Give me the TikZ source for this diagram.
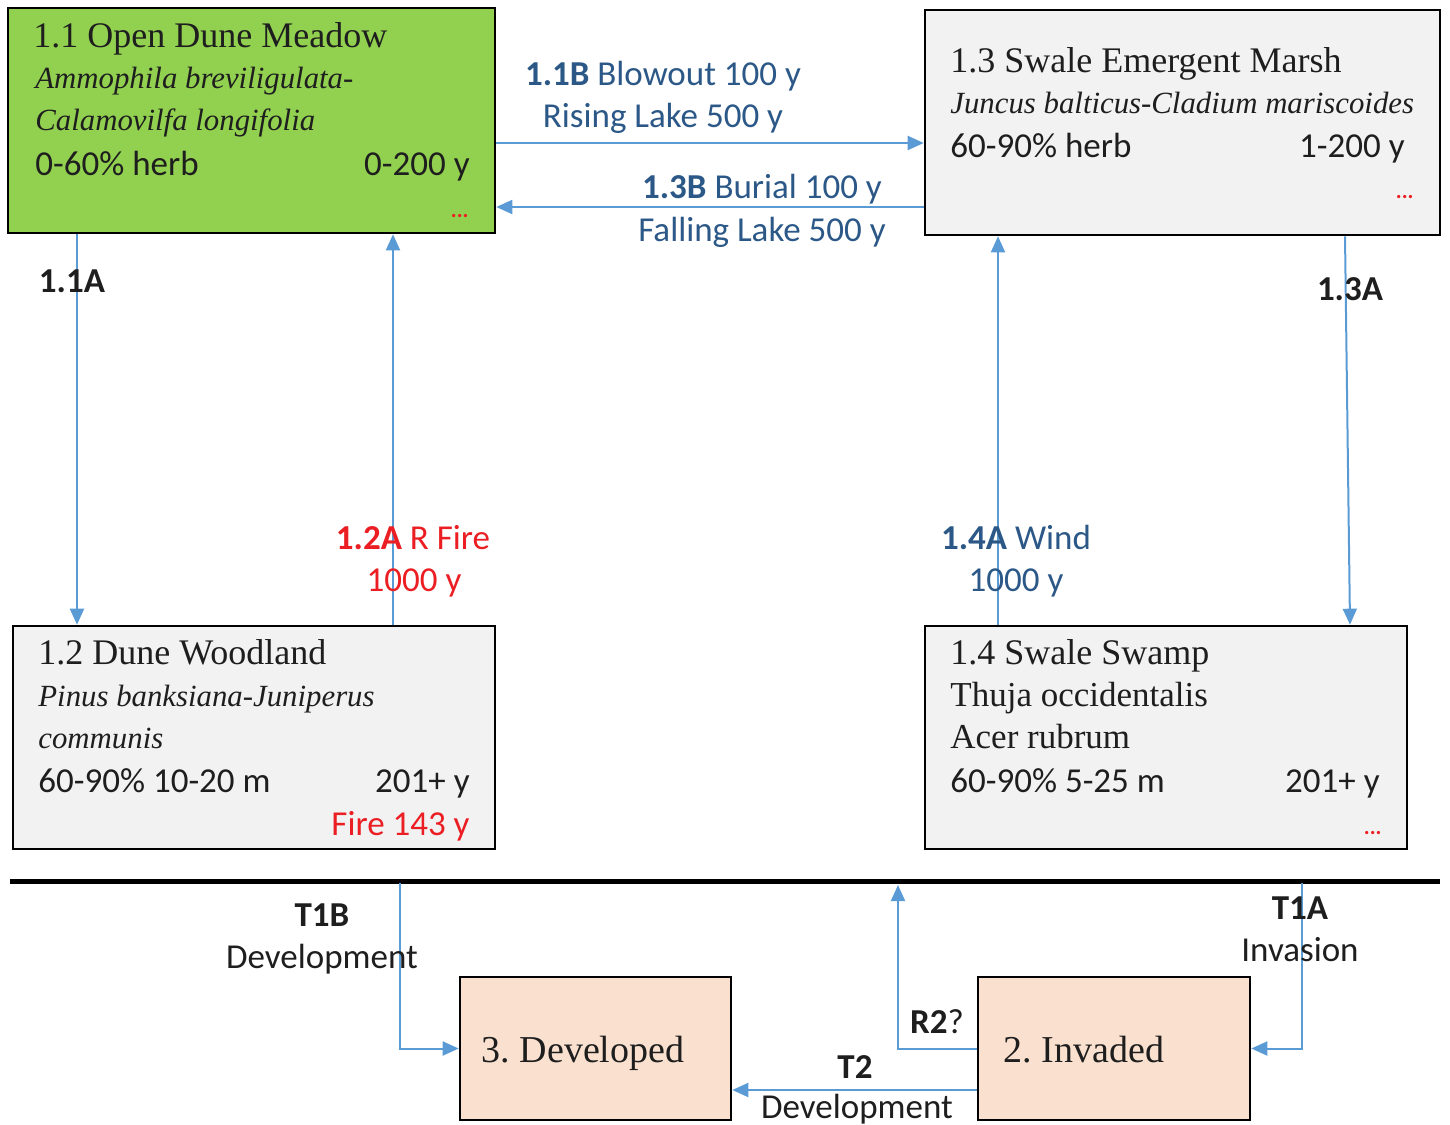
\documentclass[tikz,border=0pt]{standalone}
\usepackage{fontspec}
\setmainfont{Liberation Serif}
\usetikzlibrary{arrows.meta,fit,calc}
\newfontfamily\calfont{Carlito}
\definecolor{arrowblue}{RGB}{91,155,213}
\definecolor{labblue}{RGB}{44,88,135}
\definecolor{labred}{RGB}{235,30,35}
\definecolor{meadow}{RGB}{146,208,80}
\definecolor{boxgray}{RGB}{242,242,242}
\definecolor{peach}{RGB}{250,225,207}
\definecolor{txt}{RGB}{30,30,30}
\frenchspacing
\tikzset{
  box/.style={draw=black, line width=1.3pt, inner sep=0pt},
  ttl/.style={font=\fontsize{18}{20}\selectfont, anchor=base west, inner sep=0pt, text=txt},
  spp/.style={font=\fontsize{15.4}{20}\selectfont\itshape, anchor=base west, inner sep=0pt, text=txt},
  sppup/.style={font=\fontsize{17.5}{20}\selectfont, anchor=base west, inner sep=0pt, text=txt},
  sans/.style={font=\calfont\fontsize{17.5}{21}\selectfont, inner sep=0pt, text=txt},
  sansl/.style={sans, anchor=base west},
  sansr/.style={sans, anchor=base east},
  lab/.style={sans, anchor=base},
  dots/.style={font=\calfont\bfseries\fontsize{11}{12}\selectfont, text=labred, inner sep=0pt, anchor=base east},
  arr/.style={draw=arrowblue, line width=1pt, -{Triangle[length=8pt,width=7pt]}},
}
\begin{document}
\begin{tikzpicture}[x=0.5pt,y=-0.5pt]
\useasboundingbox (0,0) rectangle (1450,1124);
% boxes
\node[box, fill=meadow, fit={(8,8) (495,233)}] (b11) {};
\node[box, fill=boxgray, fit={(925,10) (1440,235)}] (b13) {};
\node[box, fill=boxgray, fit={(13,626) (495,849)}] (b12) {};
\node[box, fill=boxgray, fit={(925,626) (1407,849)}] (b14) {};
\node[box, fill=peach, fit={(460,977) (731,1120)}] (b3) {};
\node[box, fill=peach, fit={(978,977) (1250,1120)}] (b2) {};
% box 1.1
\node[ttl] (t11a) at (33,47) {1.1 Open Dune Meadow};
\node[spp] (t11b) at (35,88) {Ammophila breviligulata-};
\node[spp] (t11c) at (35,130) {Calamovilfa longifolia};
\node[sansl] (t11d) at (35,175) {0-60\% herb};
\node[sansr] (t11e) at (470,175) {0-200 y};
\node[dots] (t11f) at (469,217) {...};
% box 1.3
\node[ttl] (t13a) at (950,72) {1.3 Swale Emergent Marsh};
\node[spp] (t13b) at (950,113) {Juncus balticus-Cladium mariscoides};
\node[sansl] (t13c) at (950,157) {60-90\% herb};
\node[sansr] (t13d) at (1405,157) {1-200 y};
\node[dots] (t13e) at (1414,198) {...};
% box 1.2
\node[ttl] (t12a) at (38,664) {1.2 Dune Woodland};
\node[spp] (t12b) at (38,706) {Pinus banksiana-Juniperus};
\node[spp] (t12c) at (38,748) {communis};
\node[sansl] (t12d) at (38,792) {60-90\% 10-20 m};
\node[sansr] (t12e) at (470,792) {201+ y};
\node[sansr, text=labred] (t12f) at (470,835) {Fire 143 y};
% box 1.4
\node[ttl] (t14a) at (950,664) {1.4 Swale Swamp};
\node[sppup] (t14b) at (950,706) {Thuja occidentalis};
\node[sppup] (t14c) at (950,748) {Acer rubrum};
\node[sansl] (t14d) at (950,792) {60-90\% 5-25 m};
\node[sansr] (t14e) at (1380,792) {201+ y};
\node[dots] (t14f) at (1382,834) {...};
% bottom boxes text
\node[ttl, font=\fontsize{19}{21}\selectfont, anchor=base] (t3) at (583,1062) {3. Developed};
\node[ttl, font=\fontsize{19}{21}\selectfont, anchor=base] (t2) at (1084,1062) {2. Invaded};
% reference coordinates
\coordinate (c1) at (77,0);
\coordinate (c2) at (393,0);
\coordinate (c3) at (0,143);
\coordinate (c4) at (0,207);
\coordinate (c5) at (998,0);
\coordinate (c6) at (1345,0);
\coordinate (c6b) at (1350,0);
\coordinate (hl1) at (10,881);
\coordinate (hl2) at (1440,881);
\coordinate (t1btop) at (400,883);
\coordinate (r2top) at (898,885);
\coordinate (t1atop) at (1302,883);
\coordinate (c8) at (0,1090);
% connectors
\draw[arr] (b11.south -| c1) -- (b12.north -| c1);
\draw[arr] (b12.north -| c2) -- (b11.south -| c2);
\draw[arr] (b11.east |- c3) -- (b13.west |- c3);
\draw[arr] (b13.west |- c4) -- (b11.east |- c4);
\draw[arr] (b14.north -| c5) -- (b13.south -| c5);
\draw[arr] (b13.south -| c6) -- (b14.north -| c6b);
\draw[line width=2.5pt] (hl1) -- (hl2);
\draw[arr] (t1btop) |- (b3.west);
\draw[arr] (b2.west) -| (r2top);
\draw[arr] (t1atop) |- (b2.east);
\draw[arr] (b2.west |- c8) -- (b3.east |- c8);
% labels
\node[lab] (l11a) at (72,292) {\bfseries 1.1A};
\node[lab, text=labblue] (l11b1) at (663,85) {\bfseries 1.1B\mdseries{} Blowout 100 y};
\node[lab, text=labblue] (l11b2) at (663,127) {Rising Lake 500 y};
\node[lab, text=labblue] (l13b1) at (762,198) {\bfseries 1.3B\mdseries{} Burial 100 y};
\node[lab, text=labblue] (l13b2) at (762,241) {Falling Lake 500 y};
\node[lab, text=labred] (l12a1) at (413,549) {\bfseries 1.2A\mdseries{} R Fire};
\node[lab, text=labred] (l12a2) at (414,591) {1000 y};
\node[lab, text=labblue] (l14a1) at (1016,549) {\bfseries 1.4A\mdseries{} Wind};
\node[lab, text=labblue] (l14a2) at (1016,591) {1000 y};
\node[lab] (l13a) at (1350,300) {\bfseries 1.3A};
\node[lab] (lt1b1) at (322,926) {\bfseries T1B};
\node[lab] (lt1b2) at (322,968) {Development};
\node[lab] (lt1a1) at (1300,919) {\bfseries T1A};
\node[lab] (lt1a2) at (1300,961) {Invasion};
\node[lab] (lr2) at (937,1033) {\bfseries R2\mdseries ?};
\node[lab] (lt21) at (855,1078) {\bfseries T2};
\node[lab] (lt22) at (857,1118) {Development};
\end{tikzpicture}
\end{document}
